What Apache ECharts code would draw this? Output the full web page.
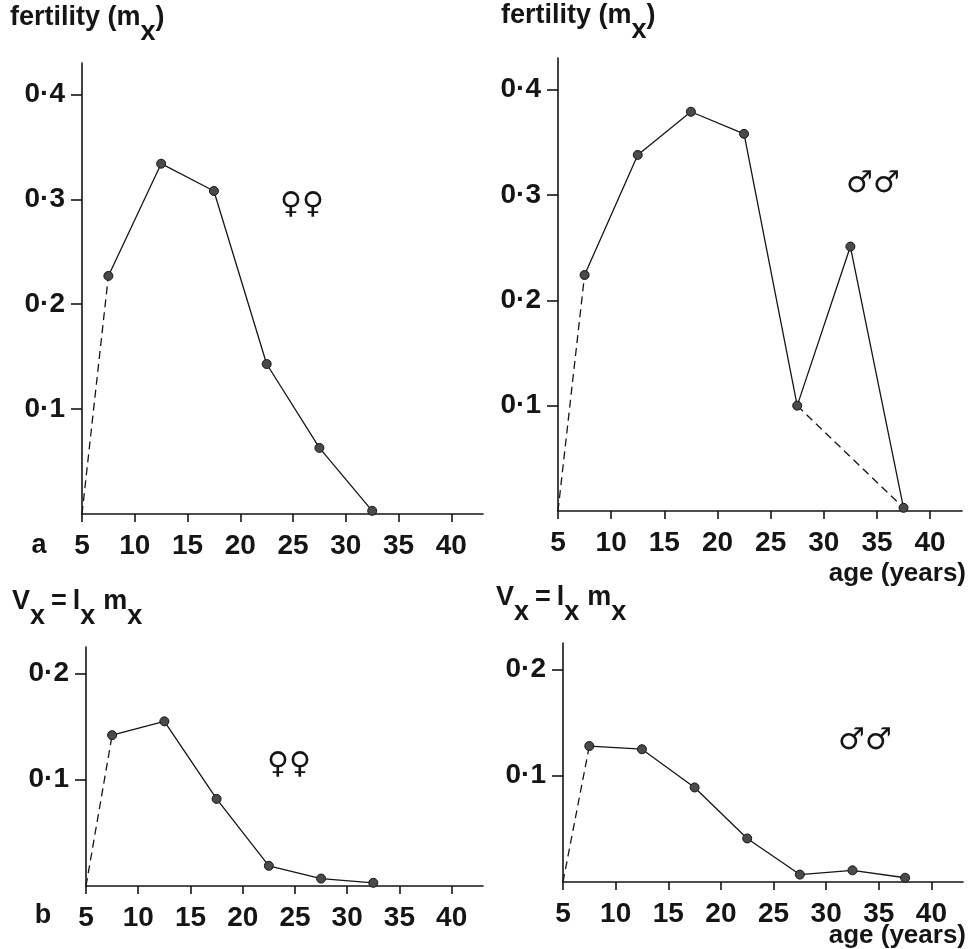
<!DOCTYPE html>
<html>
<head>
<meta charset="utf-8">
<script src="https://cdn.jsdelivr.net/npm/echarts@6/dist/echarts.min.js"></script>
<style>
  html, body { margin: 0; padding: 0; background: #fff; }
  #chart { width: 970px; height: 949px; }
</style>
</head>
<body>
<div id="chart"></div>
<script>
// age class midpoints (years)
const ages = [7.5, 12.5, 17.5, 22.5, 27.5, 32.5, 37.5];
// fertility m_x
const mxFemale = [0.227, 0.334, 0.308, 0.143, 0.063, 0.003];
const mxMale = [0.224, 0.338, 0.379, 0.358, 0.100, 0.251, 0.003];
// reproductive value V_x = l_x m_x
const vxFemale = [0.142, 0.155, 0.082, 0.019, 0.007, 0.003];
const vxMale = [0.128, 0.125, 0.089, 0.041, 0.007, 0.011, 0.004];
// dashed lines start at maturity
const origin = [5, 0];
// male fertility: dashed bypass from 27.5 to 37.5
const maleBypass = [4, 6];

const xTicks = [5, 10, 15, 20, 25, 30, 35, 40];
const yTicksTop = [0.1, 0.2, 0.3, 0.4];
const yTicksBottom = [0.1, 0.2];

const FONT = 'Liberation Sans, Arial, sans-serif';
const INK = '#151515';

const chart = echarts.init(document.getElementById('chart'));

const grids = [
  { left: 82, top: 63, width: 401, height: 451 },
  { left: 558, top: 58, width: 404, height: 453 },
  { left: 86, top: 647, width: 397, height: 239 },
  { left: 563, top: 643, width: 400, height: 239 }
];

function xAxisFor(i) {
  return {
    type: 'value', gridIndex: i, min: 5, max: 43,
    splitLine: { show: false },
    axisLine: { lineStyle: { color: INK, width: 1.6 } },
    axisTick: { customValues: xTicks, length: 8, lineStyle: { color: INK, width: 1.6 } },
    axisLabel: {
      customValues: xTicks, margin: 18, color: INK,
      fontFamily: FONT, fontSize: 28, fontWeight: 'bold'
    }
  };
}

function yAxisFor(i, max, ticks) {
  return {
    type: 'value', gridIndex: i, min: 0, max: max,
    splitLine: { show: false },
    axisLine: { show: true, lineStyle: { color: INK, width: 1.6 } },
    axisTick: { show: true, customValues: ticks, length: 11, lineStyle: { color: INK, width: 1.6 } },
    axisLabel: {
      customValues: ticks, margin: 17, color: INK,
      fontFamily: FONT, fontSize: 28, fontWeight: 'bold',
      formatter: v => v.toFixed(1).replace('.', '\u00b7')
    }
  };
}

function pts(vals) {
  return vals.map((v, k) => [ages[k], v]);
}

function panelSeries(i, vals) {
  return [
    {
      type: 'line', xAxisIndex: i, yAxisIndex: i, z: 2,
      data: [origin, [ages[0], vals[0]]],
      symbol: 'none', silent: true,
      lineStyle: { color: INK, width: 1.3, type: [8, 5] }
    },
    {
      type: 'line', xAxisIndex: i, yAxisIndex: i, z: 3,
      data: pts(vals),
      symbol: 'circle', symbolSize: 9,
      itemStyle: { color: '#4a4a4a', borderColor: INK, borderWidth: 1 },
      lineStyle: { color: INK, width: 1.3 }
    }
  ];
}

const series = []
  .concat(panelSeries(0, mxFemale))
  .concat(panelSeries(1, mxMale))
  .concat(panelSeries(2, vxFemale))
  .concat(panelSeries(3, vxMale));

series.push({
  type: 'line', xAxisIndex: 1, yAxisIndex: 1, z: 2,
  data: maleBypass.map(k => [ages[k], mxMale[k]]),
  symbol: 'none', silent: true,
  lineStyle: { color: INK, width: 1.3, type: [8, 5] }
});

const titleRich = {
  n: { fontFamily: FONT, fontSize: 27, fontWeight: 'bold', color: INK, verticalAlign: 'top', lineHeight: 30 },
  s: { fontFamily: FONT, fontSize: 27, fontWeight: 'bold', color: INK, verticalAlign: 'bottom', lineHeight: 42 },
  g: { fontFamily: FONT, fontSize: 27, fontWeight: 'bold', color: INK, verticalAlign: 'top', lineHeight: 30, padding: [0, 6, 0, 6] },
  w: { fontFamily: FONT, fontSize: 27, fontWeight: 'bold', color: INK, verticalAlign: 'top', lineHeight: 30, padding: [0, 0, 0, 8] }
};

function titleAt(text, left, top) {
  return { text: text, left: left, top: top, padding: 0, textStyle: { rich: titleRich } };
}

function label(text, x, y, size, family, align) {
  return {
    type: 'text', x: x, y: y, silent: true,
    style: {
      text: text, fill: INK, font: 'bold ' + size + 'px ' + family,
      textAlign: align || 'center', textVerticalAlign: 'middle'
    }
  };
}

const option = {
  backgroundColor: '#fff',
  animation: false,
  title: [
    titleAt('{n|fertility (m}{s|x}{n|)}', 10, 4),
    titleAt('{n|fertility (m}{s|x}{n|)}', 501, 2),
    titleAt('{n|V}{s|x}{g|=}{n|l}{s|x}{w|m}{s|x}', 12, 588),
    titleAt('{n|V}{s|x}{g|=}{n|l}{s|x}{w|m}{s|x}', 496, 584)
  ],
  grid: grids,
  xAxis: [xAxisFor(0), xAxisFor(1), xAxisFor(2), xAxisFor(3)],
  yAxis: [
    yAxisFor(0, 0.43, yTicksTop),
    yAxisFor(1, 0.43, yTicksTop),
    yAxisFor(2, 0.225, yTicksBottom),
    yAxisFor(3, 0.225, yTicksBottom)
  ],
  series: series,
  graphic: [
    label('a', 39, 546, 27, FONT),
    label('b', 43, 916, 27, FONT),
    label('age (years)', 966, 574, 26, FONT, 'right'),
    label('age (years)', 966, 936, 26, FONT, 'right'),
    label('\u2640\u2640', 302, 205, 30, 'DejaVu Sans'),
    label('\u2642\u2642', 873, 184, 30, 'DejaVu Sans'),
    label('\u2640\u2640', 289, 765, 30, 'DejaVu Sans'),
    label('\u2642\u2642', 865, 741, 30, 'DejaVu Sans')
  ]
};

chart.setOption(option);
</script>
</body>
</html>
